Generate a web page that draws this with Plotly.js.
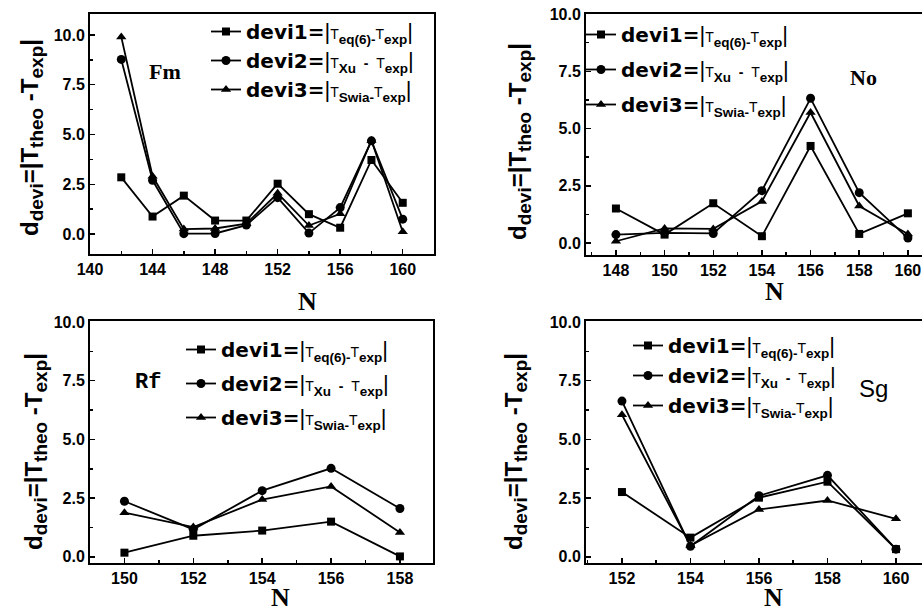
<!DOCTYPE html>
<html>
<head>
<meta charset="utf-8">
<script src="https://cdn.plot.ly/plotly-3.0.1.min.js"></script>
<style>html,body{margin:0;padding:0;background:#fff;}#chart{width:922px;height:613px;}</style>
</head>
<body>
<div id="chart"></div>
<script>
// ---- data ----
const fmN = [142, 144, 146, 148, 150, 152, 154, 156, 158, 160];
const fmDevi1 = [2.85, 0.88, 1.93, 0.68, 0.68, 2.53, 1.0, 0.32, 3.72, 1.57];
const fmDevi2 = [8.77, 2.7, 0.02, 0.03, 0.45, 1.83, 0.05, 1.33, 4.68, 0.75];
const fmDevi3 = [9.9, 2.9, 0.25, 0.28, 0.52, 2.05, 0.43, 1.02, 4.7, 0.12];

const noN = [148, 150, 152, 154, 156, 158, 160];
const noDevi1 = [1.51, 0.37, 1.74, 0.3, 4.24, 0.4, 1.3];
const noDevi2 = [0.37, 0.45, 0.42, 2.29, 6.32, 2.2, 0.22];
const noDevi3 = [0.08, 0.64, 0.62, 1.82, 5.7, 1.62, 0.4];

const rfN = [150, 152, 154, 156, 158];
const rfDevi1 = [0.18, 0.9, 1.12, 1.5, 0.02];
const rfDevi2 = [2.37, 1.17, 2.82, 3.77, 2.06];
const rfDevi3 = [1.88, 1.27, 2.44, 3.0, 1.04];

const sgN = [152, 154, 156, 158, 160];
const sgDevi1 = [2.76, 0.82, 2.52, 3.2, 0.33];
const sgDevi2 = [6.63, 0.45, 2.6, 3.47, 0.33];
const sgDevi3 = [6.05, 0.48, 2.02, 2.4, 1.62];

const elements = ['Fm', 'No', 'Rf', 'Sg'];
const yTickVals = [0, 2.5, 5, 7.5, 10];

// ---- text ----
const Tsm = '<span style="font-family:Liberation Sans;font-size:14px">T</span>';
function subB(s) {
  return '<sub><span style="font-family:Liberation Sans;font-size:13.5px;font-weight:bold">' + s + '</span></sub>';
}
const bar = '<span style="font-family:Liberation Sans;font-size:22px">|</span>';
const label1 = '<b>devi1=</b>' + bar + Tsm + subB('eq(6)-') + Tsm + subB('exp') + bar;
const label2 = '<b>devi2=</b>' + bar + Tsm + subB('Xu') + '<span style="font-family:Liberation Sans;font-size:14px;font-weight:bold">  -  </span>' + Tsm + subB('exp') + bar;
const label3 = '<b>devi3=</b>' + bar + Tsm + subB('Swia-') + Tsm + subB('exp') + bar;
function ysub(s) { return '<sub><span style="font-size:19px">' + s + '</span></sub>'; }
const yTitle = '<b>d' + ysub('devi') + '=|T' + ysub('theo') + ' -T' + ysub('exp') + '|</b>';

const panels = [
  {n: fmN, d: [fmDevi1, fmDevi2, fmDevi3], xa: 'x', ya: 'y', lg: 'legend'},
  {n: noN, d: [noDevi1, noDevi2, noDevi3], xa: 'x2', ya: 'y2', lg: 'legend2'},
  {n: rfN, d: [rfDevi1, rfDevi2, rfDevi3], xa: 'x3', ya: 'y3', lg: 'legend3'},
  {n: sgN, d: [sgDevi1, sgDevi2, sgDevi3], xa: 'x4', ya: 'y4', lg: 'legend4'}
];
const symbols = ['square', 'circle', 'triangle-up'];
const sizes = [8, 9, 9];
const labels = [label1, label2, label3];

const traces = [];
panels.forEach((p, pi) => {
  p.d.forEach((vals, si) => {
    traces.push({
      x: p.n, y: vals, xaxis: p.xa, yaxis: p.ya,
      type: 'scatter', mode: 'lines+markers',
      name: labels[si], legend: p.lg, legendgroup: 'g' + pi + si,
      line: {color: 'black', width: 1.8},
      marker: {symbol: symbols[si], size: sizes[si], color: 'black'}
    });
  });
});

const W = 922, H = 613;
const dx = (a, b) => [a / W, b / W];
const dy = (top, bottom) => [(H - bottom) / H, (H - top) / H];

const tickFont = {family: 'Liberation Sans, Arial, sans-serif', size: 16, weight: 'bold', color: 'black'};
function xax(domain, range, tick0, dtick, mdtick) {
  return {
    domain: domain, range: range, showline: true, mirror: true,
    linewidth: 2, linecolor: 'black', ticks: 'inside', ticklen: 5, tickwidth: 1.5, tickcolor: 'black',
    tickmode: 'linear', tick0: tick0, dtick: dtick, showgrid: false, zeroline: false,
    tickfont: tickFont,
    minor: {ticks: 'inside', ticklen: 3, tickwidth: 1.5, tickcolor: 'black', dtick: mdtick, tick0: tick0, showgrid: false}
  };
}
function yax(domain, range, mirror) {
  return {
    domain: domain, range: range, showline: true, mirror: mirror,
    linewidth: 2, linecolor: 'black', ticks: 'inside', ticklen: 5, tickwidth: 1.5, tickcolor: 'black',
    tickmode: 'array', tickvals: yTickVals, tickformat: '.1f', showgrid: false, zeroline: false,
    tickfont: tickFont,
    minor: {ticks: 'inside', ticklen: 3, tickwidth: 1.5, tickcolor: 'black', dtick: 1.25, tick0: 0, showgrid: false}
  };
}

const legendFont = {family: 'DejaVu Sans, sans-serif', size: 20, color: 'black'};
function leg(x, y, gap) {
  return {x: x, y: y, xanchor: 'left', yanchor: 'top', bgcolor: 'rgba(0,0,0,0)',
    font: legendFont, tracegroupgap: gap, borderwidth: 0};
}

const annFontSerif = {family: 'Liberation Serif, Times New Roman, serif', size: 26, weight: 'bold', color: 'black'};
const yTitleFont = {family: 'Liberation Sans, Arial, sans-serif', size: 24, weight: 'bold', color: 'black'};
const elemSerif = {family: 'Liberation Serif, Times New Roman, serif', size: 22, weight: 'bold', color: 'black'};
const monoFont = {family: 'Liberation Mono, Courier New, monospace', size: 22, weight: 'bold', color: 'black'};
const sansFont = {family: 'Liberation Sans, Arial, sans-serif', size: 24, color: 'black'};

function ann(text, x, y, font, angle) {
  return {text: text, xref: 'paper', yref: 'paper', x: x / W, y: (H - y) / H,
    xanchor: 'center', yanchor: 'middle', showarrow: false, font: font, textangle: angle || 0};
}

const layout = {
  width: W, height: H, margin: {l: 0, r: 0, t: 0, b: 0},
  paper_bgcolor: 'white', plot_bgcolor: 'white', showlegend: true,
  xaxis:  Object.assign(xax(dx(90, 434), [140, 162], 140, 4, 2), {anchor: 'y'}),
  yaxis:  Object.assign(yax(dy(14, 254), [-1.0, 11.05], true), {anchor: 'x'}),
  xaxis2: Object.assign(xax(dx(586, 922), [146.77, 160.58], 148, 2, 1), {anchor: 'y2'}),
  yaxis2: Object.assign(yax(dy(14, 255), [-0.52, 10.0], false), {anchor: 'x2'}),
  xaxis3: Object.assign(xax(dx(90, 433), [149, 158.96], 150, 2, 1), {anchor: 'y3'}),
  yaxis3: Object.assign(yax(dy(321, 563), [-0.26, 10.04], true), {anchor: 'x3'}),
  xaxis4: Object.assign(xax(dx(586, 922), [150.95, 160.76], 152, 2, 1), {anchor: 'y4'}),
  yaxis4: Object.assign(yax(dy(321, 563), [-0.26, 10.04], false), {anchor: 'x4'}),
  legend:  leg(206 / W, (H - 12) / H, 0),
  legend2: leg(581 / W, (H - 15) / H, 6),
  legend3: leg(181 / W, (H - 330) / H, 5),
  legend4: leg(628 / W, (H - 326) / H, 1),
  annotations: [
    ann(yTitle, 31, 138, yTitleFont, -90),
    ann(yTitle, 519, 142, yTitleFont, -90),
    ann(yTitle, 35, 452, yTitleFont, -90),
    ann(yTitle, 515, 452, yTitleFont, -90),
    ann('N', 307, 301, annFontSerif),
    ann('N', 774, 291, annFontSerif),
    ann('N', 280, 597, annFontSerif),
    ann('N', 773, 597, annFontSerif),
    ann(elements[0], 165, 71, elemSerif),
    ann(elements[1], 863, 77, elemSerif),
    ann(elements[2], 148, 382, monoFont),
    ann(elements[3], 873, 389, sansFont)
  ]
};

Plotly.newPlot('chart', traces, layout, {staticPlot: true, displayModeBar: false});
</script>
</body>
</html>
